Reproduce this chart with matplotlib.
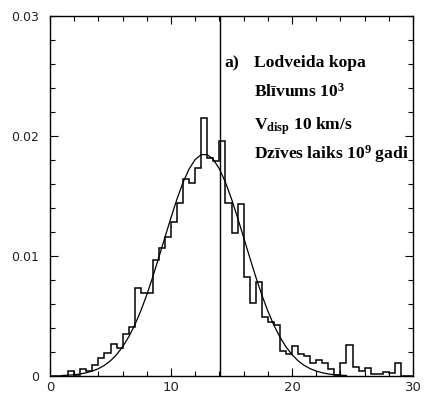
import numpy as np
import matplotlib
matplotlib.use("Agg")
import matplotlib.pyplot as plt
from matplotlib.ticker import MultipleLocator

# ---- data ----
bin_width = 0.5
hist_heights = [
    0.0, 0.0, 0.0, 0.0004, 0.0001, 0.00056, 0.00044, 0.00092, 0.00147, 0.00194,
    0.00264, 0.00236, 0.0035, 0.00406, 0.0073, 0.00694, 0.00694, 0.00967, 0.01064, 0.0116,
    0.01286, 0.01444, 0.0164, 0.0161, 0.0173, 0.0215, 0.0182, 0.0179, 0.0196, 0.01444,
    0.0119, 0.01433, 0.00822, 0.0061, 0.00786, 0.00489, 0.00453, 0.00425, 0.00211, 0.00183,
    0.00253, 0.00183, 0.00167, 0.00106, 0.00133, 0.00106, 0.00056, 0.0001, 0.00106, 0.00258,
    0.00078, 0.00042, 0.00064, 0.00017, 0.00017, 0.00031, 0.00025, 0.00111, 0.0, 0.0,
]
curve_x = [1.0, 1.5, 2.0, 2.5, 3.0, 3.5, 4.0, 4.5, 5.0, 5.5, 6.0, 6.5, 7.0, 7.5, 8.0,
           8.5, 9.0, 9.5, 10.0, 10.5, 11.0, 11.5, 12.0, 12.5, 13.0, 13.5, 14.0, 14.5,
           15.0, 15.5, 16.0, 16.5, 17.0, 17.5, 18.0, 18.5, 19.0, 19.5, 20.0, 20.5,
           21.0, 21.5, 22.0, 22.5, 23.0, 23.5, 24.0, 24.5]
curve_y = [0.00004, 0.00007, 0.0001, 0.00017, 0.00027, 0.00041, 0.00061, 0.00089,
           0.00127, 0.00178, 0.00243, 0.00325, 0.00424, 0.00542, 0.00677, 0.00828,
           0.0099, 0.01156, 0.0132, 0.01476, 0.01614, 0.01726, 0.01804, 0.01845,
           0.01845, 0.01804, 0.01726, 0.01614, 0.01476, 0.0132, 0.01156, 0.0099,
           0.00828, 0.00677, 0.00542, 0.00424, 0.00325, 0.00243, 0.00178, 0.00127,
           0.00089, 0.00061, 0.00041, 0.00027, 0.00017, 0.0001, 0.00007, 0.00004]
vline_x = 14.05
xlim = (0, 30)
ylim = (0, 0.03)
x_ticks = [0, 10, 20, 30]
x_tick_labels = ["0", "10", "20", "30"]
y_ticks = [0, 0.01, 0.02, 0.03]
y_tick_labels = ["0", "0.01", "0.02", "0.03"]
label_a = "a)"
text_lines = ["Lodveida kopa", "Blīvums $10^{3}$", "$V_{disp}$ 10 km/s",
              "Dzīves laiks $10^{9}$ gadi"]

# ---- style ----
plt.rcParams["mathtext.fontset"] = "custom"
plt.rcParams["mathtext.rm"] = "Liberation Serif:bold"
plt.rcParams["mathtext.it"] = "Liberation Serif:bold"
plt.rcParams["mathtext.bf"] = "Liberation Serif:bold"
plt.rcParams["mathtext.default"] = "rm"

fig = plt.figure(figsize=(4.24, 3.96), dpi=100)
ax = fig.add_axes([50 / 424, 20 / 396, 363 / 424, 360 / 396])

edges = np.arange(len(hist_heights) + 1) * bin_width
ax.stairs(hist_heights, edges, color="black", linewidth=1.1, baseline=0)
ax.plot(curve_x, curve_y, color="black", linewidth=0.9)
ax.axvline(vline_x, color="black", linewidth=1.0)

ax.set_xlim(*xlim)
ax.set_ylim(*ylim)
ax.set_xticks(x_ticks)
ax.set_xticklabels(x_tick_labels)
ax.set_yticks(y_ticks)
ax.set_yticklabels(y_tick_labels)
ax.xaxis.set_minor_locator(MultipleLocator(2))
ax.yaxis.set_minor_locator(MultipleLocator(0.002))
ax.tick_params(which="both", direction="in", top=True, right=True,
               color="black", width=0.8)
ax.tick_params(which="major", length=6)
ax.tick_params(which="minor", length=3.5)
ax.tick_params(axis="x", which="major", labelsize=9.5, pad=3.5, labelcolor="#222222")
ax.tick_params(axis="y", which="major", labelsize=9, pad=8, labelcolor="#222222")
for sp in ax.spines.values():
    sp.set_linewidth(1.0)

tkw = dict(fontfamily="Liberation Serif", fontweight="bold", fontsize=12.6,
           color="black", va="baseline", ha="left")
ax.text(14.44, 0.02573, label_a, **tkw)
ys = [0.02573, 0.02328, 0.02056, 0.01814]
for s, y in zip(text_lines, ys):
    ax.text(16.86, y, s, **tkw)

fig.savefig("out.png", dpi=100)
